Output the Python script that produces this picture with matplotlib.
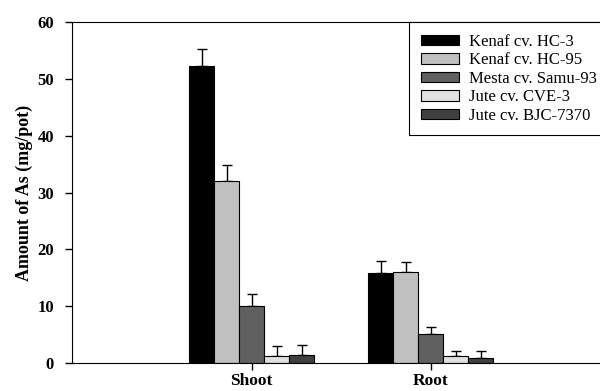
import numpy as np
import matplotlib
matplotlib.use("Agg")
import matplotlib.pyplot as plt

plt.rcParams['font.family'] = ['Liberation Serif', 'DejaVu Serif']

groups = ["Shoot", "Root"]
cultivars = ["Kenaf cv. HC-3", "Kenaf cv. HC-95", "Mesta cv. Samu-93",
             "Jute cv. CVE-3", "Jute cv. BJC-7370"]
colors = ["#000000", "#c0c0c0", "#606060", "#e0e0e0", "#404040"]

# values per cultivar: [Shoot, Root]
means = [[52.3, 15.9],
         [32.0, 16.1],
         [10.1, 5.05],
         [1.2, 1.2],
         [1.35, 0.95]]
errs = [[3.0, 2.1],
        [2.9, 1.7],
        [2.0, 1.25],
        [1.8, 1.0],
        [1.8, 1.1]]

fig = plt.figure(figsize=(6, 3.91), dpi=100)
ax = fig.add_axes([0.12, 0.0716, 0.88, 0.872])

x = np.arange(len(groups))
w = 0.14
for i in range(len(cultivars)):
    pos = x + (i - 2) * w
    m = np.array(means[i])
    e = np.array(errs[i])
    ax.bar(pos, m, width=w, color=colors[i], edgecolor="black", linewidth=0.8,
           label=cultivars[i], zorder=2)
    ax.errorbar(pos, m, yerr=[np.zeros_like(e), e], fmt="none", ecolor="black",
                elinewidth=1, capsize=3.6, capthick=1, zorder=1)

ax.set_xlim(-1.004, 1.946)
ax.set_ylim(0, 60)
ax.set_yticks(range(0, 61, 10))
ax.set_xticks(x)
ax.set_xticklabels(groups, fontsize=12.5, fontweight="bold")
for lab in ax.get_yticklabels():
    lab.set_fontweight("bold")
    lab.set_fontsize(12)
ax.tick_params(axis="both", direction="out", length=5, width=1)
ax.tick_params(axis="y", pad=8)
ax.tick_params(axis="x", pad=2.5)
ax.spines["right"].set_visible(False)
ax.set_ylabel("Amount of As (mg/pot)", fontsize=13, fontweight="bold")
ax.yaxis.set_label_coords(-0.091, 0.5)
ax.yaxis.label.set_va("center")

leg = ax.legend(loc="upper left", bbox_to_anchor=(0.638, 1.0), borderaxespad=0,
                prop={"size": 12}, handlelength=2.3, handleheight=0.6,
                handletextpad=0.6, labelspacing=0.15, borderpad=0.7,
                fancybox=False, edgecolor="black", framealpha=1)
leg.get_frame().set_linewidth(0.8)

fig.savefig("out.png", dpi=100)
